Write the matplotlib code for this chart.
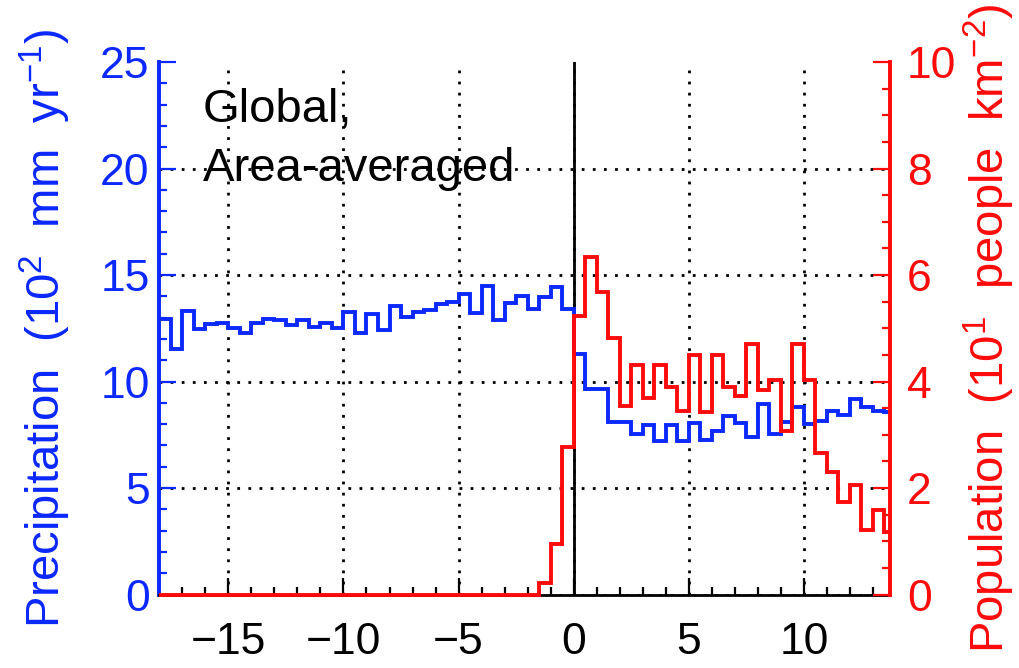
import numpy as np
import matplotlib
matplotlib.use("Agg")
import matplotlib.pyplot as plt
from matplotlib.patches import Rectangle
from matplotlib.ticker import MultipleLocator

plt.rcParams.update({
    "font.family": ["Liberation Sans", "DejaVu Sans"],
    "font.size": 32,
    "mathtext.fontset": "custom",
    "mathtext.rm": "Liberation Sans",
    "mathtext.it": "Liberation Sans:italic",
    "mathtext.bf": "Liberation Sans:bold",
})

BLUE = "#0a28ff"
RED = "#ff0a0a"

# 0.5-wide bins starting at -18
bin_start = -18.0
bin_width = 0.5

# precipitation, 10^2 mm/yr
precip = [
    12.93, 11.52, 13.32, 12.46, 12.70, 12.75, 12.50, 12.29, 12.73, 12.92,
    12.88, 12.65, 12.89, 12.57, 12.73, 12.50, 13.25, 12.26, 13.17, 12.42,
    13.56, 13.04, 13.28, 13.35, 13.62, 13.72, 14.11, 13.20, 14.48, 12.89,
    13.67, 14.00, 13.43, 13.98, 14.45, 13.43,
    11.31, 9.63, 9.65, 8.08, 8.08, 7.52, 7.96, 7.20, 7.96, 7.20,
    8.07, 7.25, 7.68, 8.36, 8.04, 7.41, 8.94, 7.52, 8.12, 8.82,
    8.02, 8.17, 8.64, 8.44, 9.20, 8.80, 8.62, 8.56,
]

# population, 10^1 people/km^2
population = [0.0] * 33 + [
    0.22, 0.95, 2.78, 5.23, 6.34, 5.69, 4.81, 3.55, 4.31, 3.70,
    4.31, 3.89, 3.44, 4.50, 3.43, 4.50, 3.89, 3.72, 4.70, 3.85,
    4.02, 3.07, 4.71, 4.02, 2.66, 2.31, 1.74, 2.06, 1.22, 1.59, 1.18,
]

edges = bin_start + bin_width * np.arange(len(precip) + 1)

x_ticks = [-15, -10, -5, 0, 5, 10]
y_ticks = [0, 5, 10, 15, 20, 25]
y2_ticks = [0, 2, 4, 6, 8, 10]

fig = plt.figure(figsize=(10.2, 6.68), dpi=100)
ax = fig.add_axes([0.1562, 0.110, 0.7165, 0.797])
ax2 = ax.twinx()

ax.stairs(precip, edges, color=BLUE, lw=2.8, baseline=None, zorder=3)
red = ax2.stairs(population, edges, color=RED, lw=2.8, baseline=None, zorder=3)
# let the zero line sit on the bottom axis without being cut in half
red.set_clip_path(Rectangle((0, -0.05), 1, 1.1, transform=ax2.transAxes))

ax.set_xlim(-18, 13.75)
ax.set_ylim(0, 25)
ax2.set_ylim(0, 10)

ax.set_xticks(x_ticks)
ax.set_yticks(y_ticks)
ax2.set_yticks(y2_ticks)
ax.xaxis.set_minor_locator(MultipleLocator(1))
ax.yaxis.set_minor_locator(MultipleLocator(1))
ax2.yaxis.set_minor_locator(MultipleLocator(0.5))

# dotted grid, no line at the top edge
ax.set_axisbelow(True)
ax.grid(True, which="major", color="black", linestyle=(0, (1, 3)), lw=2.0)
ax.yaxis.get_major_ticks()[-1].gridline.set_visible(False)
ax.axvline(0, color="black", lw=2.0, zorder=2)

for side in ["top", "right"]:
    ax.spines[side].set_visible(False)
for side in ["top", "left", "bottom"]:
    ax2.spines[side].set_visible(False)
ax.spines["left"].set_color(BLUE)
ax.spines["left"].set_linewidth(2.8)
ax.spines["bottom"].set_linewidth(2.0)
ax2.spines["right"].set_color(RED)
ax2.spines["right"].set_linewidth(2.8)

ax.tick_params(axis="x", which="major", direction="in", length=12, width=1.6,
               pad=20, labelsize=32)
ax.tick_params(axis="x", which="minor", direction="in", length=6, width=1.6)
ax.tick_params(axis="y", which="major", direction="in", length=12, width=1.6,
               pad=7, colors=BLUE, labelsize=32)
ax.tick_params(axis="y", which="minor", direction="in", length=6, width=1.6,
               colors=BLUE)
ax2.tick_params(axis="y", which="major", direction="in", length=12, width=1.6,
                pad=12, colors=RED, labelsize=32)
ax2.tick_params(axis="y", which="minor", direction="in", length=6, width=1.6,
                colors=RED)

ax.set_ylabel(r"Precipitation  (10$^2$  mm  yr$^{-1}$)", color=BLUE, fontsize=34)
ax.yaxis.label.set_va("center")
ax.yaxis.set_label_coords(-0.156, 0.5)
ax2.set_ylabel(r"Population  (10$^1$  people  km$^{-2}$)", color=RED,
               fontsize=34, rotation=90)
ax2.yaxis.label.set_va("center")
ax2.yaxis.set_label_coords(1.1365, 0.5)

ax.text(0.059, 0.887, "Global,", transform=ax.transAxes, fontsize=34,
        va="baseline", ha="left", color="black")
ax.text(0.059, 0.776, "Area-averaged", transform=ax.transAxes, fontsize=34,
        va="baseline", ha="left", color="black")

fig.savefig("out.png", dpi=100)
